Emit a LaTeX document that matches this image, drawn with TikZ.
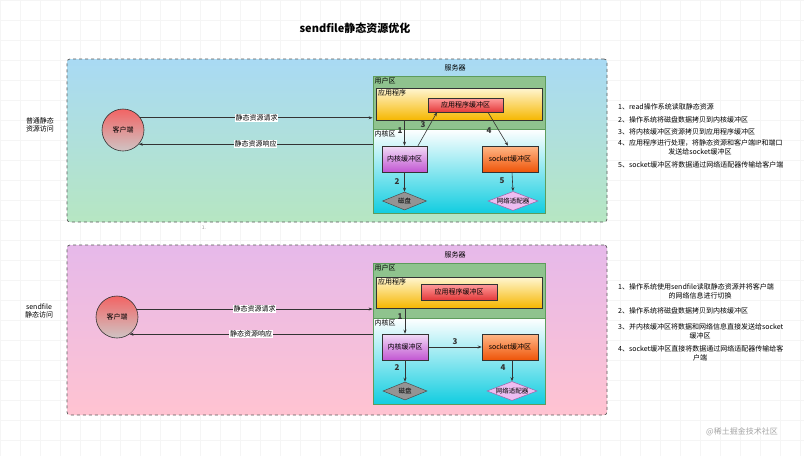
\documentclass[tikz,border=0pt]{standalone}
\usepackage{fontspec}
\setmainfont{Noto Sans CJK SC}
\usetikzlibrary{arrows.meta,shapes.geometric}
\definecolor{edge}{HTML}{333333}
\definecolor{panelA}{HTML}{A9DAF4}
\definecolor{panelB}{HTML}{B6E6C2}
\definecolor{panelC}{HTML}{E6B9EA}
\definecolor{panelD}{HTML}{FFC3D1}
\definecolor{userg}{HTML}{8FC38E}
\definecolor{userd}{HTML}{5E9C5C}
\definecolor{cyanb}{HTML}{12CDE0}
\definecolor{appT}{HTML}{FFF6D2}
\definecolor{appB}{HTML}{F6B700}
\definecolor{bufT}{HTML}{FF9C9C}
\definecolor{bufB}{HTML}{E43A3A}
\definecolor{kbT}{HTML}{F1DCF6}
\definecolor{kbB}{HTML}{C256D2}
\definecolor{sbT}{HTML}{FFB888}
\definecolor{sbB}{HTML}{EE5408}
\definecolor{netf}{HTML}{EDBDF1}
\definecolor{netd}{HTML}{9A62A8}
\definecolor{cliT}{HTML}{F26464}
\definecolor{cliB}{HTML}{CFC4C4}
\tikzset{
  panel/.style={draw=black!65, dashed, line width=0.7pt, rounded corners=3pt, inner sep=0},
  bx/.style={draw=edge, line width=0.5pt, inner sep=0, font=\fontsize{7}{8}\selectfont},
  dia/.style={diamond, aspect=2.5, inner sep=0, line width=0.5pt, font=\fontsize{6.5}{7}\selectfont},
  arr/.style={-{Stealth[length=4pt,width=3pt]}, draw=edge, line width=0.6pt},
  num/.style={font=\fontsize{8}{9}\selectfont\bfseries, text=edge, inner sep=0},
  lbl/.style={fill=white, inner sep=0.6pt, font=\fontsize{7}{8}\selectfont},
  zone/.style={font=\fontsize{7}{8}\selectfont, inner sep=0, anchor=north west},
  note/.style={font=\fontsize{7}{8}\selectfont, inner sep=0, anchor=west, text=black},
  notec/.style={font=\fontsize{7}{8}\selectfont, inner sep=0, text=black},
  side/.style={font=\fontsize{7}{8.5}\selectfont, align=center, inner sep=0},
  client/.style={circle, draw=edge, line width=0.6pt, minimum size=42pt, inner sep=0, top color=cliT, bottom color=cliB, font=\fontsize{7}{8}\selectfont},
}
\begin{document}
\begin{tikzpicture}[x=1pt,y=-1pt]
\useasboundingbox (0,0) rectangle (804,456);
\fill[white] (0,0) rectangle (804,456);
\draw[black!4, line width=0.4pt, step=20pt] (0,0) grid (804,456);

\node[font=\fontsize{11}{12}\selectfont\bfseries, inner sep=0] (title) at (355,28) {sendfile静态资源优化};

% ===== top panel =====
\node[panel, top color=panelA, bottom color=panelB, minimum width=540pt, minimum height=163pt] (p1) at (337,140.5) {};
\node[side] (side1) at (40,125) {普通静态\\资源访问};
\node[client] (c1) at (123,130) {客户端};
\node[font=\fontsize{7}{8}\selectfont, inner sep=0] (srv1) at (455,68) {服务器};
\node[draw=userd, fill=userg, line width=0.8pt, minimum width=172pt, minimum height=137pt, inner sep=0] (s1) at (459,144.5) {};
\node[draw=userd, line width=0.8pt, top color=white, bottom color=cyanb, minimum width=172pt, minimum height=84pt, inner sep=0] (k1) at (459,171) {};
\node[zone] (uz1) at (374.5,77.5) {用户区};
\node[zone] (kz1) at (374.5,130.5) {内核区};
\node[bx, top color=appT, bottom color=appB, minimum width=166pt, minimum height=32pt] (a1) at (459,104) {};
\node[zone] (al1) at (378,89.5) {应用程序};
\node[bx, top color=bufT, bottom color=bufB, minimum width=75pt, minimum height=14pt] (ab1) at (465.5,105) {应用程序缓冲区};
\node[bx, top color=kbT, bottom color=kbB, minimum width=45pt, minimum height=26pt] (kb1) at (404.5,159) {内核缓冲区};
\node[bx, top color=sbT, bottom color=sbB, minimum width=56pt, minimum height=26pt] (sb1) at (510,159) {socket缓冲区};
\node[dia, draw=black!70, fill=black!42, minimum width=44pt, minimum height=18pt] (d1) at (404.5,201) {磁盘};
\node[dia, draw=netd, fill=netf, minimum width=50pt, minimum height=18pt] (n1) at (513,201) {网络适配器};

\draw[arr] (c1.35) -- (c1.35 -| s1.west) node[midway, lbl] {静态资源请求};
\draw[arr] (c1.-42 -| s1.west) -- (c1.-42) node[midway, lbl] {静态资源响应};
\draw[arr] (a1.south -| kb1.north) -- (kb1.north);
\draw[arr] (kb1.south) -- (d1.north);
\draw[arr] ([xshift=13.5pt]kb1.north) -- ([xshift=-28.5pt]ab1.south);
\draw[arr] ([xshift=22.5pt]ab1.south) -- ([xshift=-2pt]sb1.north);
\draw[arr] ([xshift=2pt]sb1.south) -- (n1.north);
\node[num] (t1a) at (400,131) {1};
\node[num] (t1b) at (397,182) {2};
\node[num] (t1c) at (423,125) {3};
\node[num] (t1d) at (489,131) {4};
\node[num] (t1e) at (502,181) {5};

\node[note] (m1) at (618,107) {1、read操作系统读取静态资源};
\node[note] (m2) at (618,120) {2、操作系统将磁盘数据拷贝到内核缓冲区};
\node[note] (m3) at (618,132) {3、将内核缓冲区资源拷贝到应用程序缓冲区};
\node[note] (m4) at (618,143) {4、应用程序进行处理，将静态资源和客户端IP和端口};
\node[notec] (m4b) at (700,151.5) {发送给socket缓冲区};
\node[note] (m5) at (618,164.5) {5、socket缓冲区将数据通过网络适配器传输给客户端};

\node[font=\fontsize{5}{6}\selectfont, text=black!40, inner sep=0] (dot) at (204,228) {1.};

% ===== bottom panel =====
\node[panel, top color=panelC, bottom color=panelD, minimum width=540pt, minimum height=170pt] (p2) at (337,330) {};
\node[side] (side2) at (39,311) {sendfile\\静态访问};
\node[client] (c2) at (117,317) {客户端};
\node[font=\fontsize{7}{8}\selectfont, inner sep=0] (srv2) at (455,255) {服务器};
\node[draw=userd, fill=userg, line width=0.8pt, minimum width=172pt, minimum height=141pt, inner sep=0] (s2) at (459,333.5) {};
\node[draw=userd, line width=0.8pt, top color=white, bottom color=cyanb, minimum width=172pt, minimum height=86pt, inner sep=0] (k2) at (459,361) {};
\node[zone] (uz2) at (374.5,264.5) {用户区};
\node[zone] (kz2) at (374.5,319.5) {内核区};
\node[bx, top color=appT, bottom color=appB, minimum width=166pt, minimum height=31pt] (a2) at (459,292.5) {};
\node[zone] (al2) at (378,278.5) {应用程序};
\node[bx, top color=bufT, bottom color=bufB, minimum width=76pt, minimum height=16pt] (ab2) at (459,292) {应用程序缓冲区};
\node[bx, top color=kbT, bottom color=kbB, minimum width=46pt, minimum height=26pt] (kb2) at (405,347) {内核缓冲区};
\node[bx, top color=sbT, bottom color=sbB, minimum width=56pt, minimum height=26pt] (sb2) at (510,347) {socket缓冲区};
\node[dia, draw=black!70, fill=black!42, minimum width=44pt, minimum height=18pt] (d2) at (405,391) {磁盘};
\node[dia, draw=netd, fill=netf, minimum width=50pt, minimum height=18pt] (n2) at (512,391) {网络适配器};

\draw[arr] (c2.22) -- (c2.22 -| s2.west) node[midway, lbl] {静态资源请求};
\draw[arr] (c2.-54 -| s2.west) -- (c2.-54) node[midway, lbl] {静态资源响应};
\draw[arr] (a2.south -| kb2.north) -- (kb2.north);
\draw[arr] (kb2.south) -- (d2.north);
\draw[arr] (kb2.east) -- (sb2.west);
\draw[arr] ([xshift=2pt]sb2.south) -- (n2.north);
\node[num] (t2a) at (400,317) {1};
\node[num] (t2b) at (397,368) {2};
\node[num] (t2c) at (455,342) {3};
\node[num] (t2d) at (503,368) {4};

\node[note] (q1) at (618,287) {1、操作系统使用sendfile读取静态资源并将客户端};
\node[notec] (q1b) at (700,295.5) {的网络信息进行切换};
\node[note] (q2) at (618,311) {2、操作系统将磁盘数据拷贝到内核缓冲区};
\node[note] (q3) at (618,327) {3、并内核缓冲区将数据和网络信息直接发送给socket};
\node[notec] (q3b) at (700,335.5) {缓冲区};
\node[note] (q4) at (618,349) {4、socket缓冲区直接将数据通过网络适配器传输给客};
\node[notec] (q4b) at (700,357.5) {户端};

\node[font=\fontsize{8}{9}\selectfont, text=black!35, inner sep=0] (wm) at (742,432) {@稀土掘金技术社区};
\end{tikzpicture}
\end{document}
